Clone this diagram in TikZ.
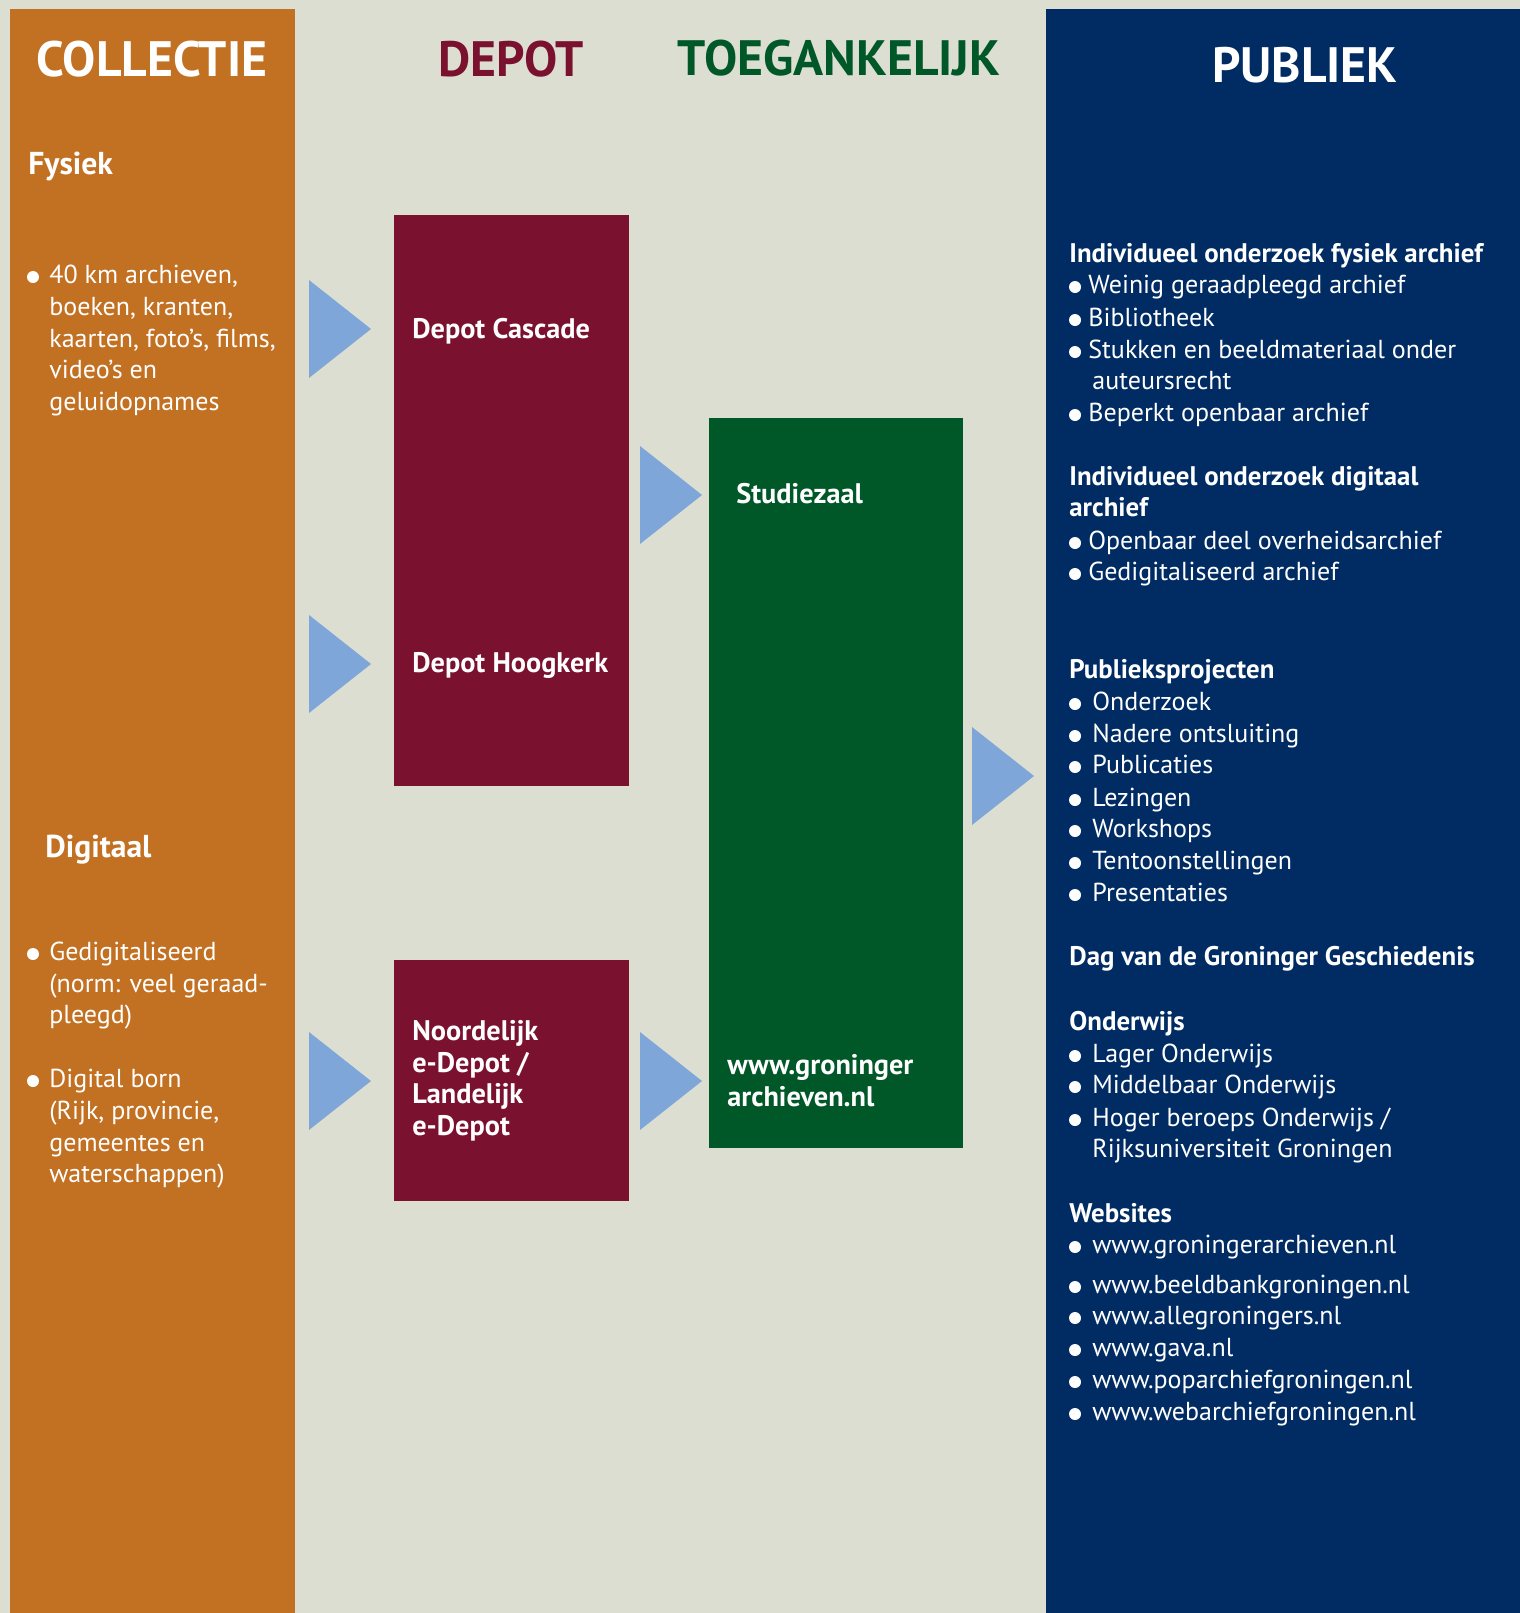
\documentclass[tikz,border=0pt]{standalone}
\usepackage{fontspec}
\setmainfont{PT Sans}
\usetikzlibrary{calc}

\definecolor{oranje}{RGB}{194,112,34}
\definecolor{zand}{RGB}{220,222,209}
\definecolor{wijnrood}{RGB}{122,17,46}
\definecolor{bosgroen}{RGB}{0,88,41}
\definecolor{marine}{RGB}{0,44,99}
\definecolor{lichtblauw}{RGB}{127,166,216}

\newcommand{\pijl}[1]{\fill[lichtblauw] (#1) -- ++(-62,-49) -- ++(0,98) -- cycle}
\newcommand{\punt}[2]{\fill[white] (#1,#2) ++(0,-6) circle (0.12cm)}

\begin{document}
\begin{tikzpicture}
[
x=0.02cm, y=-0.02cm,
txt/.style   = {anchor=base west, inner sep=0pt, text=white, font=\fontsize{14.8}{17}\selectfont},
kop/.style   = {txt, font=\fontsize{15.3}{17}\selectfont\bfseries},
blok/.style  = {txt, font=\fontsize{16.1}{19}\selectfont\bfseries},
sub/.style   = {txt, font=\fontsize{18}{21}\selectfont\bfseries},
titel/.style = {anchor=base, inner sep=0pt, font=\fontsize{28.3}{32}\selectfont\bfseries},
]
% achtergrond en kolommen
\fill[zand] (0,0) rectangle (1520,1613);
\fill[oranje] (10,9) rectangle (295,1613);
\fill[marine] (1046,9) rectangle (1520,1613);
\fill[wijnrood] (394,215) rectangle (629,786);
\fill[wijnrood] (394,960) rectangle (629,1201);
\fill[bosgroen] (709,418) rectangle (963,1148);

% koppen
\node[titel, text=white]    (collectie) at (152,76)  {COLLECTIE};
\node[titel, text=wijnrood] (depot)     at (511,76)  {DEPOT};
\node[titel, text=bosgroen] (toegang)   at (839,75)  {TOEGANKELIJK};
\node[titel, text=white]    (publiek)   at (1305,82) {PUBLIEK};

% collectie
\node[sub] (fysiek)   at (28,174) {Fysiek};
\node[sub] (digitaal) at (45,857) {Digitaal};
\foreach \y/\t [count=\i] in {283/{40 km archieven,}, 315/{boeken, kranten,}, 347/{kaarten, foto’s, films,}, 378/{video’s en}, 410/{geluidopnames},
  960/{Gedigitaliseerd}, 992/{(norm: veel geraad-}, 1023/{pleegd)},
  1087/{Digital born}, 1119/{(Rijk, provincie,}, 1151/{gemeentes en}, 1182/{waterschappen)}}
  \node[txt] (col\i) at (49,\y) {\t};
\foreach \y in {283,960,1087} \punt{33}{\y};

% depot en toegankelijk
\node[blok] (cascade)    at (412,338) {Depot Cascade};
\node[blok] (hoogkerk)   at (412,672) {Depot Hoogkerk};
\node[blok] (studiezaal) at (736,503) {Studiezaal};
\foreach \y/\t [count=\i] in {1040/{Noordelijk}, 1072/{e-Depot /}, 1103/{Landelijk}, 1135/{e-Depot}}
  \node[blok] (edepot\i) at (412,\y) {\t};
\node[blok] (site1) at (727,1074) {www.groninger};
\node[blok] (site2) at (727,1106) {archieven.nl};

% pijlen
\coordinate (p1) at (371,329);
\coordinate (p2) at (371,664);
\coordinate (p3) at (702,495);
\coordinate (p4) at (371,1081);
\coordinate (p5) at (702,1081);
\coordinate (p6) at (1034,776);
\foreach \p in {p1,p2,p3,p4,p5,p6} \pijl{\p};

% publiek
\foreach \y/\t [count=\i] in {262/{Individueel onderzoek fysiek archief}, 485/{Individueel onderzoek digitaal}, 516/{archief},
  678/{Publieksprojecten}, 965/{Dag van de Groninger Geschiedenis}, 1030/{Onderwijs}, 1222/{Websites}}
  \node[kop] (kop\i) at (1069,\y) {\t};
\foreach \y/\t [count=\i] in {293/{Weinig geraadpleegd archief}, 326/{Bibliotheek}, 358/{Stukken en beeldmateriaal onder},
  421/{Beperkt openbaar archief}, 549/{Openbaar deel overheidsarchief}, 580/{Gedigitaliseerd archief}}
  \node[txt] (ind\i) at (1088,\y) {\t};
\foreach \y/\t [count=\i] in {389/{auteursrecht}, 710/{Onderzoek}, 742/{Nadere ontsluiting}, 773/{Publicaties}, 806/{Lezingen},
  837/{Workshops}, 869/{Tentoonstellingen}, 901/{Presentaties}, 1062/{Lager Onderwijs}, 1093/{Middelbaar Onderwijs},
  1126/{Hoger beroeps Onderwijs /}, 1157/{Rijksuniversiteit Groningen}, 1253/{www.groningerarchieven.nl},
  1293/{www.beeldbankgroningen.nl}, 1324/{www.allegroningers.nl}, 1356/{www.gava.nl}, 1388/{www.poparchiefgroningen.nl},
  1420/{www.webarchiefgroningen.nl}}
  \node[txt] (pub\i) at (1092,\y) {\t};
\foreach \y in {293,326,358,421,549,580,710,742,773,806,837,869,901,1062,1093,1126,1253,1293,1324,1356,1388,1420}
  \punt{1075}{\y};
\end{tikzpicture}
\end{document}
